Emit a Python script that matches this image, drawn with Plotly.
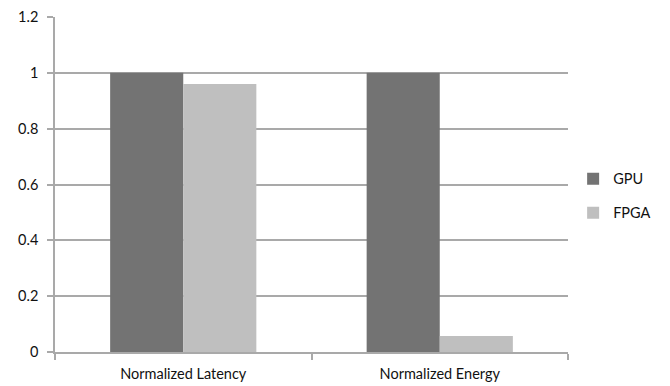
import plotly.graph_objects as go

categories = ["Normalized Latency", "Normalized Energy"]
gpu_values = [1.0, 1.0]
fpga_values = [0.96, 0.057]
y_tick_vals = [0, 0.2, 0.4, 0.6, 0.8, 1.0, 1.2]
y_tick_text = ["0", "0.2", "0.4", "0.6", "0.8", "1", "1.2"]

FONT = "Lato, 'Open Sans', sans-serif"
GRID = "#a9a9a9"

fig = go.Figure()
fig.add_trace(go.Bar(x=categories, y=gpu_values, name="GPU",
                     marker=dict(color="#737373", line=dict(width=0)),
                     legendgroup="g1"))
fig.add_trace(go.Bar(x=categories, y=fpga_values, name="FPGA",
                     marker=dict(color="#bfbfbf", line=dict(width=0)),
                     legendgroup="g2"))

fig.update_layout(
    width=670, height=386,
    margin=dict(l=47, r=110, t=9, b=42),
    paper_bgcolor="white", plot_bgcolor="white",
    barmode="group", bargap=0.43, bargroupgap=0,
    font=dict(family=FONT, size=14.5, color="#111"),
    legend=dict(x=1.01, y=0.466, xanchor="left", yanchor="middle",
                tracegroupgap=12, font=dict(size=14.5),
                bgcolor="rgba(0,0,0,0)"),
    xaxis=dict(showgrid=False, showline=True, linecolor=GRID, linewidth=1.5,
               ticks="outside", tickson="boundaries", ticklen=6, tickcolor=GRID,
               tickwidth=1.5, tickfont=dict(size=14.5), ticklabelstandoff=8,
               automargin=False),
    yaxis=dict(range=[0, 1.2], tickvals=y_tick_vals, ticktext=y_tick_text,
               showgrid=True, gridcolor=GRID, gridwidth=1.5,
               showline=True, linecolor=GRID, linewidth=1.5,
               ticks="outside", ticklen=6, tickcolor=GRID, tickwidth=1.5,
               zeroline=False, tickfont=dict(size=14.5), ticklabelstandoff=6,
               automargin=False),
)

fig.write_html("out.html")
